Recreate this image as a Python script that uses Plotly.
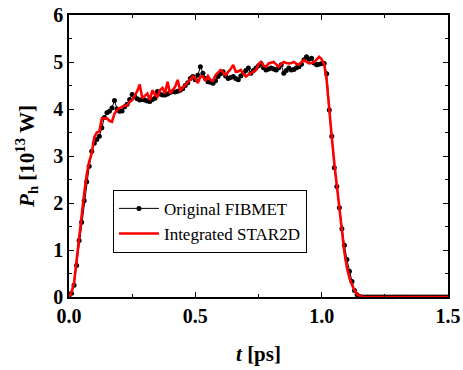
import numpy as np
import plotly.graph_objects as go

# time axis (ps), 0.01 ps sampling
t_ps = np.round(np.arange(0, 151) * 0.01, 2)

fibmet = [
    0.0, 0.08, 0.25, 0.67, 1.2, 1.59, 2.05, 2.45, 2.78, 3.1,
    3.27, 3.35, 3.42, 3.6, 3.82, 3.92, 3.95, 4.02, 4.18, 4.0,
    3.95, 3.96, 4.05, 4.1, 4.2, 4.31, 4.26, 4.22, 4.19, 4.2,
    4.19, 4.17, 4.16, 4.2, 4.23, 4.37, 4.32, 4.3, 4.3, 4.32,
    4.35, 4.37, 4.36, 4.38, 4.4, 4.43, 4.5, 4.56, 4.65, 4.69,
    4.62, 4.72, 4.9, 4.76, 4.65, 4.58, 4.57, 4.55, 4.6, 4.69,
    4.75, 4.79, 4.7, 4.65, 4.67, 4.69, 4.65, 4.62, 4.7, 4.76,
    4.82, 4.87, 4.76, 4.82, 4.87, 4.92, 4.97, 4.88, 4.83, 4.85,
    4.87, 4.85, 4.83, 4.88, 4.94, 4.76, 4.82, 4.87, 4.83, 4.84,
    4.88, 4.9, 4.95, 5.05, 5.11, 5.06, 5.08, 4.98, 4.94, 4.95,
    4.97, 4.97, 4.75, 3.98, 3.42, 2.75, 2.35, 1.9, 1.45, 1.1,
    0.8, 0.55, 0.33, 0.14, 0.05, 0.01, 0.0, 0.0, 0.0, 0.0,
    0.0, 0.0, 0.0, 0.0, 0.0, 0.0, 0.0, 0.0, 0.0, 0.0,
    0.0, 0.0, 0.0, 0.0, 0.0, 0.0, 0.0, 0.0, 0.0, 0.0,
    0.0, 0.0, 0.0, 0.0, 0.0, 0.0, 0.0, 0.0, 0.0, 0.0,
    0.0,
]

star2d = [
    0.0, 0.1, 0.3, 0.8, 1.25, 1.71, 2.2, 2.6, 2.88, 3.06,
    3.4, 3.5, 3.52, 3.8, 3.8, 3.8, 3.75, 3.73, 3.9, 3.98,
    4.02, 4.05, 4.07, 4.08, 4.15, 4.19, 4.28, 4.38, 4.52, 4.23,
    4.28, 4.33, 4.19, 4.4, 4.3, 4.26, 4.4, 4.45, 4.33, 4.58,
    4.33, 4.4, 4.47, 4.62, 4.4, 4.45, 4.51, 4.55, 4.62, 4.69,
    4.65, 4.55, 4.69, 4.69, 4.6, 4.7, 4.62, 4.6, 4.72, 4.78,
    4.83, 4.78, 4.72, 4.79, 4.85, 4.94, 4.79, 4.8, 4.83, 4.75,
    4.69, 4.73, 4.76, 4.8, 4.83, 4.95, 5.0, 4.92, 4.9, 4.97,
    4.98, 5.0, 4.95, 4.9, 4.96, 5.0, 4.98, 4.97, 4.98, 5.0,
    4.96, 4.94, 5.0, 5.04, 5.0, 4.97, 4.98, 5.0, 5.05, 5.11,
    5.06, 4.95, 4.6, 3.95, 3.4, 2.85, 2.35, 1.82, 1.32, 0.95,
    0.62, 0.4, 0.26, 0.14, 0.06, 0.02, 0.0, 0.0, 0.0, 0.0,
    0.0, 0.0, 0.0, 0.0, 0.0, 0.0, 0.0, 0.0, 0.0, 0.0,
    0.0, 0.0, 0.0, 0.0, 0.0, 0.0, 0.0, 0.0, 0.0, 0.0,
    0.0, 0.0, 0.0, 0.0, 0.0, 0.0, 0.0, 0.0, 0.0, 0.0,
    0.0,
]

x_ticks = [0.0, 0.5, 1.0, 1.5]
y_ticks = [0, 1, 2, 3, 4, 5, 6]

FONT = "Liberation Serif, Times New Roman, serif"

fig = go.Figure()
fig.add_trace(go.Scatter(
    x=t_ps, y=fibmet, name="Original FIBMET", mode="lines+markers",
    line=dict(color="black", width=1),
    marker=dict(color="black", size=5, symbol="circle"),
))
fig.add_trace(go.Scatter(
    x=t_ps, y=star2d, name="Integrated STAR2D", mode="lines",
    line=dict(color="#ff0000", width=2.6),
))

axis_common = dict(
    showline=True, linecolor="black", linewidth=1.5, mirror="ticks",
    ticks="inside", ticklen=5, tickwidth=1.2, tickcolor="black",
    showgrid=False, zeroline=False, automargin=False,
    tickfont=dict(family=FONT, size=20, color="black"),
)

fig.update_xaxes(
    range=[0, 1.5], tickvals=x_ticks, ticktext=[f"<b>{v:.1f}</b>" for v in x_ticks],
    minor=dict(ticks="inside", ticklen=3, dtick=0.25, tickcolor="black", tickwidth=1.2),
    ticklabelstandoff=0,
    title=dict(text="<b><i>t</i> [ps]</b>", font=dict(family=FONT, size=21, color="black"), standoff=21),
    **axis_common,
)
fig.update_yaxes(
    range=[0, 6], tickvals=y_ticks, ticktext=[f"<b>{v}</b>" for v in y_ticks],
    minor=dict(ticks="inside", ticklen=3, dtick=0.5, tickcolor="black", tickwidth=1.2),
    title=dict(text="<b><i>P</i><sub>h</sub> [10<sup>13</sup> W]</b>",
               font=dict(family=FONT, size=21, color="black"), standoff=13),
    **axis_common,
)

fig.update_layout(
    width=463, height=370,
    margin=dict(l=69, r=15, t=15, b=73, autoexpand=False),
    plot_bgcolor="white", paper_bgcolor="white",
    font=dict(family=FONT, color="black"),
    legend=dict(
        x=0.116, y=0.38, xanchor="left", yanchor="top",
        bgcolor="white", bordercolor="black", borderwidth=1,
        font=dict(family=FONT, size=17, color="black"),
        tracegroupgap=0, itemwidth=40,
    ),
)

fig.write_html(
    "out.html",
    config={"displayModeBar": False},
    post_script="document.body.style.margin='0';document.body.style.overflow='hidden';",
)
